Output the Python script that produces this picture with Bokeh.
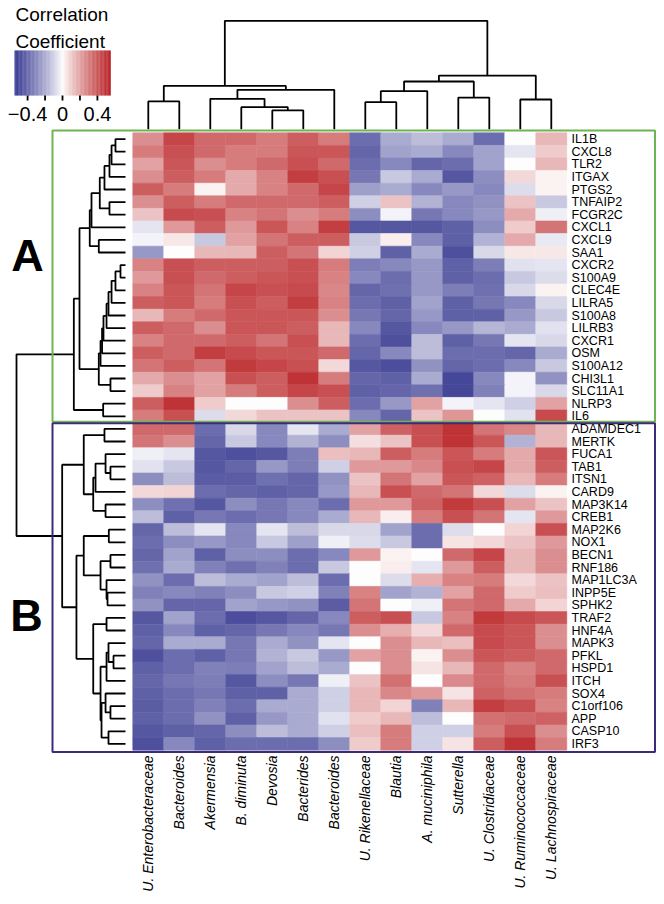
import numpy as np
from bokeh.plotting import figure
from bokeh.models import Range1d, LinearColorMapper, ColumnDataSource
from bokeh.transform import transform
from bokeh.core.properties import value
from bokeh.embed import file_html
from bokeh.resources import INLINE

# ---------------- data ----------------
taxa = ["U. Enterobacteraceae", "Bacteroides", "Akermensia", "B. diminuta", "Devosia",
        "Bacterides", "Bacteroides", "U. Rikenellaceae", "Blautia", "A. muciniphila",
        "Sutterella", "U. Clostridiaceae", "U. Ruminococcaceae", "U. Lachnospiraceae"]

genes_a = ["IL1B", "CXCL8", "TLR2", "ITGAX", "PTGS2", "TNFAIP2", "FCGR2C", "CXCL1", "CXCL9",
           "SAA1", "CXCR2", "S100A9", "CLEC4E", "LILRA5", "S100A8", "LILRB3", "CXCR1", "OSM",
           "S100A12", "CHI3L1", "SLC11A1", "NLRP3", "IL6"]
genes_b = ["ADAMDEC1", "MERTK", "FUCA1", "TAB1", "ITSN1", "CARD9", "MAP3K14", "CREB1", "MAP2K6",
           "NOX1", "BECN1", "RNF186", "MAP1LC3A", "INPP5E", "SPHK2", "TRAF2", "HNF4A", "MAPK3",
           "PFKL", "HSPD1", "ITCH", "SOX4", "C1orf106", "APP", "CASP10", "IRF3"]

corr_a = [
    [0.25, 0.45, 0.35, 0.35, 0.30, 0.38, 0.30, -0.38, -0.20, -0.15, -0.20, -0.38, 0.00, 0.15],
    [0.30, 0.42, 0.35, 0.30, 0.30, 0.40, 0.40, -0.40, -0.22, -0.20, -0.30, -0.22, -0.05, 0.10],
    [0.20, 0.40, 0.25, 0.30, 0.35, 0.42, 0.35, -0.38, -0.30, -0.40, -0.38, -0.22, 0.00, 0.15],
    [0.25, 0.38, 0.30, 0.18, 0.28, 0.47, 0.42, -0.35, -0.12, -0.20, -0.45, -0.28, 0.07, 0.02],
    [0.38, 0.30, 0.02, 0.18, 0.28, 0.35, 0.45, -0.23, -0.20, -0.30, -0.25, -0.30, -0.07, 0.02],
    [0.25, 0.38, 0.30, 0.35, 0.35, 0.35, 0.38, -0.10, 0.12, -0.18, -0.30, -0.27, 0.12, -0.12],
    [0.12, 0.43, 0.42, 0.28, 0.32, 0.25, 0.30, -0.28, -0.02, -0.35, -0.30, -0.25, 0.18, -0.03],
    [-0.05, 0.22, 0.38, 0.22, 0.40, 0.28, 0.47, -0.45, -0.45, -0.45, -0.42, -0.28, 0.10, 0.32],
    [-0.02, 0.04, -0.12, 0.20, 0.32, 0.38, 0.38, -0.12, 0.03, -0.30, -0.42, -0.18, 0.18, -0.04],
    [-0.25, 0.00, 0.15, 0.15, 0.38, 0.32, 0.08, -0.10, -0.42, -0.20, -0.47, -0.08, 0.04, 0.04],
    [0.28, 0.42, 0.38, 0.38, 0.38, 0.42, 0.30, -0.33, -0.30, -0.25, -0.42, -0.33, -0.06, -0.05],
    [0.22, 0.42, 0.35, 0.38, 0.40, 0.42, 0.28, -0.30, -0.38, -0.25, -0.42, -0.38, -0.12, -0.07],
    [0.28, 0.40, 0.32, 0.45, 0.42, 0.43, 0.27, -0.40, -0.37, -0.25, -0.33, -0.37, -0.08, 0.02],
    [0.38, 0.40, 0.30, 0.42, 0.38, 0.47, 0.28, -0.38, -0.42, -0.22, -0.42, -0.35, -0.30, -0.08],
    [0.15, 0.30, 0.35, 0.40, 0.40, 0.40, 0.25, -0.35, -0.40, -0.25, -0.42, -0.42, -0.25, -0.12],
    [0.38, 0.35, 0.25, 0.40, 0.40, 0.38, 0.15, -0.30, -0.45, -0.30, -0.25, -0.17, -0.20, -0.06],
    [0.28, 0.35, 0.35, 0.38, 0.32, 0.42, 0.15, -0.38, -0.47, -0.15, -0.42, -0.35, -0.05, -0.08],
    [0.38, 0.35, 0.47, 0.43, 0.40, 0.40, 0.35, -0.40, -0.30, -0.15, -0.38, -0.38, -0.40, -0.20],
    [0.32, 0.38, 0.32, 0.48, 0.45, 0.42, 0.07, -0.45, -0.48, -0.27, -0.40, -0.38, -0.30, -0.12],
    [0.18, 0.25, 0.20, 0.42, 0.38, 0.50, 0.30, -0.40, -0.42, -0.20, -0.50, -0.30, -0.02, -0.27],
    [0.10, 0.28, 0.20, 0.30, 0.38, 0.45, 0.42, -0.42, -0.40, -0.37, -0.50, -0.32, -0.02, -0.08],
    [0.38, 0.50, 0.10, 0.00, 0.00, 0.25, 0.38, -0.38, -0.25, 0.20, -0.02, -0.05, -0.10, 0.20],
    [0.30, 0.42, -0.07, 0.07, 0.12, 0.12, 0.12, -0.30, -0.40, 0.12, 0.23, 0.00, -0.06, 0.43],
]
corr_b = [
    [0.35, 0.35, -0.38, -0.08, -0.30, -0.05, -0.20, 0.20, 0.37, 0.42, 0.50, 0.32, 0.27, 0.15],
    [0.32, 0.25, -0.40, -0.12, -0.30, -0.18, -0.28, 0.06, 0.12, 0.42, 0.50, 0.40, -0.18, 0.15],
    [-0.03, -0.05, -0.45, -0.47, -0.45, -0.33, 0.13, 0.15, 0.38, 0.30, 0.40, 0.30, 0.18, 0.40],
    [-0.06, -0.12, -0.45, -0.40, -0.25, -0.33, -0.10, 0.22, 0.22, 0.27, 0.42, 0.45, 0.18, 0.38],
    [-0.28, -0.15, -0.43, -0.43, -0.37, -0.40, -0.27, 0.12, 0.32, 0.20, 0.40, 0.37, 0.15, 0.30],
    [0.07, 0.08, -0.38, -0.40, -0.42, -0.40, -0.25, 0.15, 0.42, 0.35, 0.32, 0.07, -0.07, 0.02],
    [-0.28, -0.37, -0.45, -0.28, -0.35, -0.30, -0.38, 0.22, 0.22, 0.37, 0.48, 0.42, 0.20, 0.12],
    [-0.15, -0.42, -0.35, -0.38, -0.35, -0.30, -0.20, 0.15, 0.03, 0.30, 0.42, 0.32, -0.05, 0.22],
    [-0.40, -0.15, -0.05, -0.30, -0.05, -0.15, -0.08, -0.08, -0.22, -0.38, -0.07, 0.00, 0.08, 0.42],
    [-0.38, -0.28, -0.25, -0.30, -0.12, -0.23, -0.03, -0.07, -0.12, -0.38, 0.05, 0.07, 0.12, 0.22],
    [-0.40, -0.22, -0.42, -0.28, -0.28, -0.38, -0.30, 0.22, 0.02, 0.00, 0.35, 0.45, 0.15, 0.25],
    [-0.37, -0.20, -0.32, -0.37, -0.32, -0.38, -0.12, 0.00, 0.03, -0.05, 0.22, 0.38, 0.15, 0.25],
    [-0.27, -0.38, -0.15, -0.20, -0.22, -0.15, -0.38, 0.00, -0.07, 0.17, 0.28, 0.30, 0.07, 0.12],
    [-0.32, -0.30, -0.32, -0.28, -0.12, -0.10, -0.32, 0.28, -0.22, -0.18, 0.20, 0.35, 0.10, 0.13],
    [-0.27, -0.40, -0.40, -0.22, -0.25, -0.27, -0.43, 0.32, 0.00, -0.03, 0.32, 0.35, 0.18, 0.08],
    [-0.45, -0.22, -0.38, -0.48, -0.45, -0.40, -0.30, 0.38, 0.42, -0.12, 0.28, 0.48, 0.43, 0.40],
    [-0.42, -0.30, -0.42, -0.40, -0.35, -0.30, -0.35, 0.25, 0.17, 0.07, 0.35, 0.43, 0.40, 0.25],
    [-0.40, -0.20, -0.20, -0.35, -0.20, -0.27, -0.05, 0.00, 0.25, 0.15, 0.13, 0.43, 0.40, 0.25],
    [-0.47, -0.38, -0.42, -0.35, -0.18, -0.12, -0.25, 0.20, 0.25, 0.02, 0.25, 0.40, 0.38, 0.35],
    [-0.42, -0.38, -0.32, -0.33, -0.22, -0.15, -0.20, 0.00, 0.25, 0.05, 0.15, 0.35, 0.28, 0.35],
    [-0.40, -0.35, -0.33, -0.45, -0.28, -0.35, -0.03, 0.12, 0.33, 0.00, 0.26, 0.35, 0.30, 0.42],
    [-0.42, -0.38, -0.35, -0.42, -0.42, -0.20, -0.10, 0.15, 0.27, 0.22, 0.05, 0.37, 0.33, 0.30],
    [-0.43, -0.38, -0.32, -0.38, -0.20, -0.20, -0.10, 0.15, 0.08, -0.32, 0.15, 0.47, 0.42, 0.28],
    [-0.42, -0.38, -0.27, -0.42, -0.25, -0.20, -0.06, 0.10, 0.15, -0.15, 0.00, 0.33, 0.35, 0.37],
    [-0.45, -0.42, -0.40, -0.28, -0.15, -0.20, -0.10, 0.13, 0.30, -0.10, -0.10, 0.30, 0.42, 0.25],
    [-0.47, -0.30, -0.42, -0.38, -0.38, -0.38, -0.28, 0.10, 0.30, -0.10, 0.05, 0.38, 0.50, 0.30],
]

# column dendrogram: (child_a, child_b, height); leaves 0..13, new ids from 14
col_merges = [(0, 1, 0.256), (4, 5, 0.173), (3, 15, 0.203), (2, 16, 0.280), (17, 6, 0.363),
              (14, 18, 0.400), (7, 8, 0.249), (20, 9, 0.351), (10, 11, 0.292), (21, 22, 0.440),
              (12, 13, 0.274), (23, 24, 0.495), (19, 25, 1.0)]
# row dendrogram: leaves 0..48, new ids from 49
row_merges = [(0, 1, 0.092), (49, 2, 0.128), (50, 3, 0.147), (51, 4, 0.193), (5, 6, 0.147),
              (52, 53, 0.236), (54, 7, 0.312), (8, 9, 0.245), (55, 56, 0.328), (10, 11, 0.046),
              (58, 12, 0.092), (59, 13, 0.128), (60, 14, 0.156), (61, 15, 0.174), (62, 16, 0.202),
              (63, 17, 0.215), (64, 18, 0.229), (19, 20, 0.138), (65, 66, 0.245), (57, 67, 0.422),
              (21, 22, 0.205), (68, 69, 0.474), (23, 24, 0.193), (26, 27, 0.138), (25, 72, 0.183),
              (73, 28, 0.275), (29, 30, 0.183), (74, 75, 0.296), (71, 76, 0.383), (31, 32, 0.153),
              (33, 34, 0.138), (36, 37, 0.165), (35, 80, 0.174), (79, 81, 0.229), (78, 82, 0.383),
              (38, 39, 0.174), (41, 42, 0.110), (40, 85, 0.156), (86, 43, 0.174), (45, 46, 0.138),
              (44, 88, 0.183), (47, 48, 0.156), (89, 90, 0.220), (87, 91, 0.229), (84, 92, 0.296),
              (83, 93, 0.450), (77, 94, 0.581), (70, 95, 1.0)]

cbar_low, cbar_high = -0.55, 0.55
cbar_ticks = [-0.4, -0.2, 0.0, 0.2, 0.4]
cbar_tick_labels = ["\u22120.4", "", "0", "", "0.4"]
legend_title = ["Correlation", "Coefficient"]
group_labels = ["A", "B"]

# ---------------- styling / layout ----------------
FONT = "Liberation Sans"
PX_COL = 31.0      # pixels per column unit
PX_ROW = 12.6      # pixels per row unit
X0_PAGE, Y0_PAGE = 132.3, 132.3
W, H = 656, 896


def px(xp):
    return (xp - X0_PAGE) / PX_COL


def py(yp):
    return (yp - Y0_PAGE) / PX_ROW


def blend(c1, c2, t):
    return tuple(int(round(a + (b - a) * t)) for a, b in zip(c1, c2))


blue, white, red = (54, 56, 144), (255, 255, 255), (186, 35, 38)
GAMMA = 0.85
palette = []
for i in range(256):
    t = i / 255
    if t < 0.5:
        c = blend(white, blue, ((0.5 - t) * 2) ** GAMMA)
    else:
        c = blend(white, red, ((t - 0.5) * 2) ** GAMMA)
    palette.append("#%02x%02x%02x" % c)
mapper = LinearColorMapper(palette=palette, low=cbar_low, high=cbar_high)

genes = genes_a + genes_b
corr = corr_a + corr_b
n_rows, n_cols = len(genes), len(taxa)

p = figure(width=W, height=H, output_backend="svg", toolbar_location=None,
           x_range=Range1d(px(0), px(W)), y_range=Range1d(py(H), py(0)),
           x_axis_location=None, y_axis_location=None, min_border=0,
           outline_line_color=None)
p.xgrid.visible = False
p.ygrid.visible = False

# heatmap
xs, ys, vs = [], [], []
for r, row in enumerate(corr):
    for c, v in enumerate(row):
        xs.append(c + 0.5)
        ys.append(r + 0.5)
        vs.append(v)
src = ColumnDataSource(dict(x=xs, y=ys, v=vs))
p.rect(x="x", y="y", width=1, height=1, source=src,
       fill_color=transform("v", mapper), line_color=transform("v", mapper), line_width=0.6)


# dendrograms
def dendro(merges, n):
    pos = {i: i + 0.5 for i in range(n)}
    hgt = {i: 0.0 for i in range(n)}
    out = []
    for k, (a, b, h) in enumerate(merges):
        out.append((pos[a], hgt[a], pos[b], hgt[b], h))
        pos[n + k] = (pos[a] + pos[b]) / 2
        hgt[n + k] = h
    return out


col_leaf_y, col_depth = py(128.7), 108.4 / PX_ROW
cx, cy = [], []
for pa, ha, pb, hb, h in dendro(col_merges, n_cols):
    cx.append([pa, pa, pb, pb])
    cy.append([col_leaf_y - ha * col_depth, col_leaf_y - h * col_depth,
               col_leaf_y - h * col_depth, col_leaf_y - hb * col_depth])
p.multi_line(cx, cy, line_color="black", line_width=1.8)

row_leaf_x, row_depth = px(125), 109.0 / PX_COL
rx, ry = [], []
for pa, ha, pb, hb, h in dendro(row_merges, n_rows):
    rx.append([row_leaf_x - ha * row_depth, row_leaf_x - h * row_depth,
               row_leaf_x - h * row_depth, row_leaf_x - hb * row_depth])
    ry.append([pa, pa, pb, pb])
p.multi_line(rx, ry, line_color="black", line_width=1.8)

# group boxes
na = len(genes_a)
p.quad(left=px(52), right=px(654.5), top=py(130), bottom=na - 0.06,
       fill_color=None, line_color="#6db552", line_width=2)
p.quad(left=px(52), right=px(654.5), top=na + 0.06, bottom=n_rows + 0.15,
       fill_color=None, line_color="#3d2a78", line_width=2)

# group letters
p.text(x=[px(27), px(26)], y=[py(255), py(615)], text=group_labels,
       text_font=value(FONT), text_font_size="45px", text_font_style="bold",
       text_align="center", text_baseline="alphabetic", text_color="black")

# row labels
p.text(x=[px(571)] * n_rows, y=[r + 0.5 for r in range(n_rows)], text=genes,
       text_font=value(FONT), text_font_size="12.5px", text_align="left",
       text_baseline="middle", text_color="black")

# column labels
p.text(x=[c + 0.5 for c in range(n_cols)], y=[py(755)] * n_cols, text=taxa,
       angle=np.pi / 2, text_font=value(FONT), text_font_size="14px",
       text_font_style="italic", text_align="right", text_baseline="middle",
       text_color="black")

# colour legend
SH = 1
cb_x0, cb_x1 = px(13 + SH), px(109 + SH)
cb_top, cb_bot = py(50), py(95)
steps = np.linspace(cbar_low, cbar_high, 121)
edges = cb_x0 + (steps - cbar_low) / (cbar_high - cbar_low) * (cb_x1 - cb_x0)
cb_src = ColumnDataSource(dict(left=edges[:-1], right=edges[1:] + 0.01,
                               v=(steps[:-1] + steps[1:]) / 2))
p.quad(left="left", right="right", top=cb_top, bottom=cb_bot, source=cb_src,
       fill_color=transform("v", mapper), line_color=None)
tick_x = [cb_x0 + (t - cbar_low) / (cbar_high - cbar_low) * (cb_x1 - cb_x0) for t in cbar_ticks]
p.segment(x0=tick_x, x1=tick_x, y0=[cb_bot] * len(tick_x), y1=[py(100)] * len(tick_x),
          line_color="black", line_width=1.8)
p.text(x=tick_x, y=[py(106)] * len(tick_x), text=cbar_tick_labels,
       text_font=value(FONT), text_font_size="20px", text_align="center",
       text_baseline="top", text_color="black")
p.text(x=[px(15)] * 2, y=[py(14), py(41)], text=legend_title,
       text_font=value(FONT), text_font_size="19px", text_align="left",
       text_baseline="alphabetic", text_color="black")

open("out.html", "w").write(file_html(p, INLINE))
